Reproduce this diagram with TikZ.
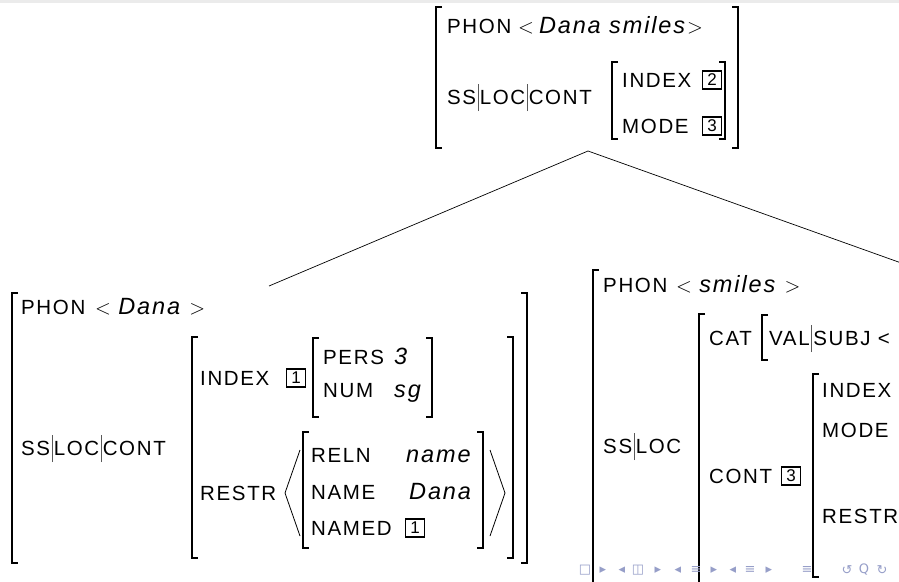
\documentclass[tikz,border=0pt]{standalone}
\usepackage{fontspec}
\setmainfont{Liberation Sans}[LetterSpace=8]
\newfontfamily\navfont{DejaVu Sans}
\definecolor{barcol}{gray}{0.35}
\definecolor{navcol}{RGB}{150,158,200}
\newcommand{\avmfont}{\fontsize{20.5}{24}\selectfont}
\newcommand{\tagfont}{\fontsize{17}{19}\selectfont}
\newcommand{\fbar}{\kern1.5pt\textcolor{barcol}{\rule[-0.35em]{0.6pt}{1.35em}}\kern1.5pt}
\newcommand{\avmval}[1]{{\fontsize{23.5}{26}\selectfont\textit{#1}}}
\begin{document}
\begin{tikzpicture}[x=1pt,y=-1pt,
    avm/.style={line width=1.2pt},
    edge/.style={line width=0.7pt},
    feat/.style={anchor=base west,inner sep=0pt,font=\avmfont},
    tag/.style={draw,line width=1.4pt,inner sep=0pt,minimum width=19pt,minimum height=18pt,font=\tagfont},
    nav/.style={inner sep=0pt,text=navcol,font=\navfont\fontsize{13}{15}\selectfont}]
    \useasboundingbox (0,0) rectangle (899,581);
    \clip (0,0) rectangle (899,581);
    \fill[black!8] (0,0) rectangle (899,3);

    % Mother: Dana smiles
    \draw [avm] (442,7) -- (436,7) -- (436,148) -- (442,148);%
    \draw [avm] (732,7) -- (738,7) -- (738,148) -- (732,148);%
    \node [feat] (mPhon) at (447,33) {PHON};%
    \node [feat] (mPhonV) at (518,33) {$<$\kern5pt\avmval{Dana smiles}$>$};%
    \node [feat] (mSs) at (447,104) {SS\fbar LOC\fbar CONT};%
    \draw [avm] (618,62) -- (612,62) -- (612,139) -- (618,139);%
    \draw [avm] (719,62) -- (725,62) -- (725,139) -- (719,139);%
    \node [feat] (mIndex) at (622,87) {INDEX};%
    \node [tag] (mTagA) at (712,80) {2};%
    \node [feat] (mMode) at (622,133) {MODE};%
    \node [tag] (mTagB) at (712,126) {3};%

    % Branches
    \coordinate (apex) at (588,151);
    \coordinate (dtrL) at (269,286);
    \coordinate (dtrR) at (960,284);
    \draw [edge] (apex) -- (dtrL);%
    \draw [edge] (apex) -- (dtrR);%

    % Left daughter: Dana
    \draw [avm] (18,293) -- (12,293) -- (12,563) -- (18,563);%
    \draw [avm] (521,293) -- (527,293) -- (527,563) -- (521,563);%
    \node [feat] (lPhon) at (21,314) {PHON};%
    \node [feat] (lPhonV) at (95,314) {$<$\ \avmval{Dana}\ $>$};%
    \node [feat] (lSs) at (21,455) {SS\fbar LOC\fbar CONT};%
    \draw [avm] (198,337) -- (192,337) -- (192,558) -- (198,558);%
    \draw [avm] (507,337) -- (513,337) -- (513,558) -- (507,558);%
    \node [feat] (lIndex) at (200,385) {INDEX};%
    \node [tag] (lTag) at (296,378) {1};%
    \draw [avm] (319,338) -- (313,338) -- (313,417) -- (319,417);%
    \draw [avm] (426,338) -- (432,338) -- (432,417) -- (426,417);%
    \node [feat] (lPers) at (323,364) {PERS};%
    \node [feat] (lPersV) at (394,364) {\avmval{3}};%
    \node [feat] (lNum) at (323,397) {NUM};%
    \node [feat] (lNumV) at (394,397) {\avmval{sg}};%
    \node [feat] (lRestr) at (200,500) {RESTR};%
    \draw [line width=0.8pt] (300,450) -- (285,493) -- (300,536);%
    \draw [line width=0.8pt] (490,450) -- (505,493) -- (490,536);%
    \draw [avm] (309,432) -- (303,432) -- (303,548) -- (309,548);%
    \draw [avm] (477,432) -- (483,432) -- (483,548) -- (477,548);%
    \node [feat] (lReln) at (311,462) {RELN};%
    \node [feat] (lRelnV) at (406,462) {\avmval{name}};%
    \node [feat] (lName) at (311,499) {NAME};%
    \node [feat] (lNameV) at (409,499) {\avmval{Dana}};%
    \node [feat] (lNamed) at (311,535) {NAMED};%
    \node [tag] (lTagB) at (415,528) {1};%

    % Right daughter: smiles
    \draw [avm] (599,270) -- (593,270) -- (593,590);%
    \node [feat] (rPhon) at (603,292) {PHON};%
    \node [feat] (rPhonV) at (676,292) {$<$\ \avmval{smiles}\ $>$};%
    \node [feat] (rSs) at (603,453) {SS\fbar LOC};%
    \draw [avm] (705,314) -- (699,314) -- (699,590);%
    \node [feat] (rCat) at (709,345) {CAT};%
    \draw [avm] (768,315) -- (762,315) -- (762,360) -- (768,360);%
    \node [feat] (rVal) at (769,345) {VAL\fbar SUBJ <};%
    \node [feat] (rCont) at (709,483) {CONT};%
    \node [tag] (rTag) at (791,476) {3};%
    \draw [avm] (819,374) -- (813,374) -- (813,577) -- (819,577);%
    \node [feat] (rIndex) at (822,397) {INDEX};%
    \node [feat] (rMode) at (822,437) {MODE};%
    \node [feat] (rRestr) at (822,523) {RESTR};%

    % Navigation symbols
    \node [nav] (nav1) at (585,570) {□};%
    \node [nav] (nav2) at (603,570) {▸};%
    \node [nav] (nav3) at (622,570) {◂};%
    \node [nav] (nav4) at (638,570) {◫};%
    \node [nav] (nav5) at (658,570) {▸};%
    \node [nav] (nav6) at (678,570) {◂};%
    \node [nav] (nav7) at (696,570) {≡};%
    \node [nav] (nav8) at (714,570) {▸};%
    \node [nav] (nav9) at (733,570) {◂};%
    \node [nav] (nav10) at (750,570) {≡};%
    \node [nav] (nav11) at (769,570) {▸};%
    \node [nav] (nav12) at (807,570) {≡};%
    \node [nav] (nav13) at (847,570) {↺};%
    \node [nav] (nav14) at (864,570) {Q};%
    \node [nav] (nav15) at (882,570) {↻};%
\end{tikzpicture}
\end{document}
